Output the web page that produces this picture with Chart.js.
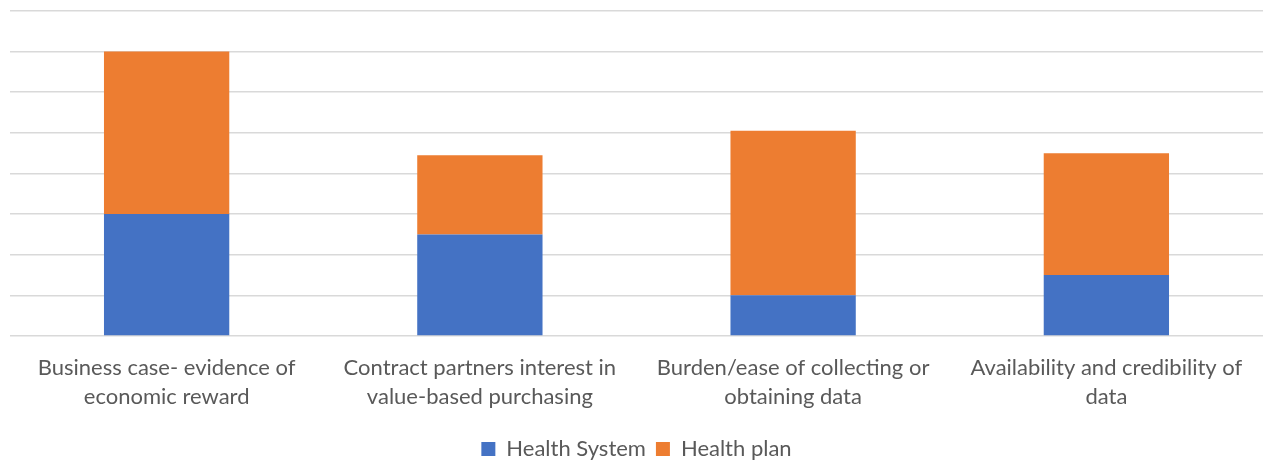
<!DOCTYPE html>
<html>
<head>
<meta charset="utf-8">
<script src="https://cdn.jsdelivr.net/npm/chart.js@4/dist/chart.umd.min.js"></script>
<style>
  html, body { margin: 0; padding: 0; background: #ffffff; }
  #wrap { width: 1263px; height: 462px; position: relative; }
</style>
</head>
<body>
<div id="wrap"><canvas id="chart"></canvas></div>
<script>
// Barrier categories (wrapped onto two lines each)
const categories = [
  ["Business case- evidence of", "economic reward"],
  ["Contract partners interest in", "value-based purchasing"],
  ["Burden/ease of collecting or", "obtaining data"],
  ["Availability and credibility of", "data"]
];

// Stacked values per respondent group
const healthSystem = [3, 2.5, 1, 1.5];
const healthPlan = [4, 1.95, 4.05, 3];

const seriesNames = ["Health System", "Health plan"];
const yMax = 8;

const textColor = "#595959";
const fontFamily = "Lato, 'Open Sans', sans-serif";

// Moves the legend row a little lower once the layout has been computed.
const legendNudge = {
  id: "legendNudge",
  afterLayout(chart) {
    const lg = chart.legend;
    if (lg) { lg.top += 8; lg.bottom += 8; }
  }
};

new Chart(document.getElementById("chart"), {
  type: "bar",
  data: {
    labels: categories,
    datasets: [
      { label: seriesNames[0], data: healthSystem, backgroundColor: "#4472C4" },
      { label: seriesNames[1], data: healthPlan, backgroundColor: "#ED7D31" }
    ]
  },
  plugins: [legendNudge],
  options: {
    responsive: true,
    maintainAspectRatio: false,
    animation: false,
    layout: { padding: { left: 10, right: 0, top: 11, bottom: 0 } },
    datasets: { bar: { categoryPercentage: 0.8, barPercentage: 0.5 } },
    scales: {
      x: {
        stacked: true,
        grid: { display: false },
        border: { display: false },
        ticks: {
          color: textColor,
          font: { family: fontFamily, size: 22, lineHeight: 1.32 },
          padding: 9,
          maxRotation: 0,
          autoSkip: false
        }
      },
      y: {
        stacked: true,
        min: 0,
        max: yMax,
        ticks: { display: false, stepSize: 1 },
        border: { display: false },
        grid: { color: "#d9d9d9", lineWidth: 1.5, drawTicks: false }
      }
    },
    plugins: {
      tooltip: { enabled: false },
      legend: {
        position: "bottom",
        labels: {
          color: textColor,
          font: { family: fontFamily, size: 22 },
          boxWidth: 14,
          boxHeight: 14,
          padding: 10
        }
      }
    }
  }
});
</script>
</body>
</html>
